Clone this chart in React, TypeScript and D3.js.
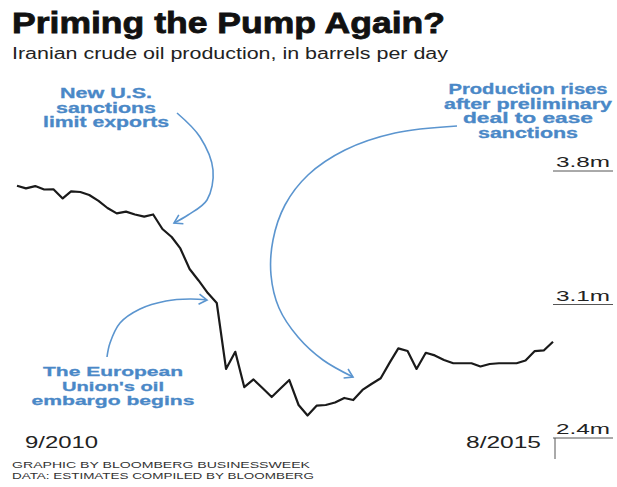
import React from 'react';
import * as d3 from 'd3';

// Iranian crude production, million barrels per day, monthly 9/2010 .. 8/2015
const months = d3.timeMonth.range(new Date(2010, 8, 1), new Date(2015, 8, 1));
const production = [
  3.723, 3.709, 3.721, 3.703, 3.704, 3.656, 3.693, 3.690, 3.674, 3.643,
  3.606, 3.578, 3.587, 3.572, 3.561, 3.572, 3.496, 3.454, 3.394, 3.286,
  3.226, 3.160, 3.108, 2.762, 2.852, 2.667, 2.707, 2.662, 2.615, 2.662,
  2.704, 2.573, 2.518, 2.570, 2.573, 2.586, 2.610, 2.599, 2.652, 2.683,
  2.713, 2.798, 2.870, 2.856, 2.762, 2.847, 2.833, 2.809, 2.792, 2.792,
  2.792, 2.775, 2.788, 2.792, 2.792, 2.792, 2.806, 2.856, 2.859, 2.905,
];
const yTicks = [3.8, 3.1, 2.4];
const yTickLabels = ['3.8m', '3.1m', '2.4m'];
const xTickLabels = ['9/2010', '8/2015'];

const W = 617;
const H = 487;
const FONT = "'Liberation Sans', Arial, Helvetica, sans-serif";
const BLUE = '#4a88c7';
const ARROW = '#5b95cf';

// annotation text: [text, width]
const noteUS: [string, number][] = [['New U.S.', 92], ['sanctions', 100], ['limit exports', 126]];
const noteEU: [string, number][] = [['The European', 140], ["Union's oil", 102], ['embargo begins', 163]];
const noteDeal: [string, number][] = [
  ['Production rises', 159], ['after preliminary', 168], ['deal to ease', 130], ['sanctions', 100],
];

const arrowUS: [number, number][] = [[177, 113], [200, 137], [213, 170], [207, 200], [188, 215], [174, 223]];
const arrowEU: [number, number][] = [[107, 357], [110, 343], [120, 323], [140, 309], [166, 301], [190, 299], [207, 300]];
const arrowDeal: [number, number][] = [
  [457, 126], [395, 133], [345, 150], [308, 175], [285, 205], [273, 240],
  [271, 275], [279, 308], [298, 337], [323, 360], [353, 377],
];

const Txt = ({ x, y, size, w, anchor = 'start', weight = 400, fill = '#222', children, bold = 0 }: any) => (
  <text x={x} y={y} fontSize={size} fontWeight={weight} fill={fill} textAnchor={anchor}
    fontFamily={FONT} textLength={w} lengthAdjust="spacingAndGlyphs"
    stroke={bold ? fill : 'none'} strokeWidth={bold}>
    {children}
  </text>
);

const App = () => {
  const x = d3.scaleTime()
    .domain([months[0], months[months.length - 1]])
    .range([17, 553]);
  const y = d3.scaleLinear().domain([2.4, 3.8]).range([438, 171]);

  const line = d3.line<number>()
    .x((_, i) => x(months[i]))
    .y(d => y(d));

  const curve = d3.line<[number, number]>().curve(d3.curveCatmullRom.alpha(0.5));

  const note = (lines: [string, number][], cx: number, y0: number, step: number, size: number) =>
    lines.map(([t, w], i) => (
      <Txt key={t} x={cx} y={y0 + i * step} size={size} w={w} anchor="middle" weight={700} fill={BLUE} bold={0.3}>{t}</Txt>
    ));

  return (
    <svg width={W} height={H} style={{ position: 'absolute', left: 0, top: 0, background: '#fff' }}>
      <defs>
        <marker id="head" viewBox="-10 -6 12 12" refX="0" refY="0" markerWidth="12" markerHeight="12"
          markerUnits="userSpaceOnUse" orient="auto">
          <path d="M-8,-5 L0,0 L-8,5" fill="none" stroke={ARROW} strokeWidth={1.6} />
        </marker>
      </defs>

      <Txt x={12} y={33} size={30} w={433} weight={700} fill="#111" bold={0.8}>Priming the Pump Again?</Txt>
      <Txt x={12} y={59} size={16} w={436}>Iranian crude oil production, in barrels per day</Txt>

      {/* right axis */}
      {yTicks.map((t, i) => (
        <g key={t}>
          <line x1={553} x2={613} y1={y(t)} y2={y(t)} stroke="#555" strokeWidth={1} />
          <Txt x={556} y={y(t) - 4} size={15} w={54}>{yTickLabels[i]}</Txt>
        </g>
      ))}
      <line x1={555} x2={555} y1={y(2.4)} y2={y(2.4) + 21} stroke="#555" strokeWidth={1} />

      <Txt x={x(months[0]) + 8} y={448} size={17} w={73}>{xTickLabels[0]}</Txt>
      <Txt x={x(months[months.length - 1]) - 12} y={448} size={17} w={75} anchor="end">{xTickLabels[1]}</Txt>

      <path d={line(production) || ''} fill="none" stroke="#1a1a1a" strokeWidth={2.2} strokeLinejoin="round" />

      {[arrowUS, arrowEU, arrowDeal].map((pts, i) => (
        <path key={i} d={curve(pts) || ''} fill="none" stroke={ARROW} strokeWidth={1.6} markerEnd="url(#head)" />
      ))}

      {note(noteUS, 106, 98, 14.5, 14)}
      {note(noteEU, 113, 376, 14.5, 13.5)}
      {note(noteDeal, 528, 94, 14.5, 14)}

      <Txt x={12} y={468} size={9.5} w={298} fill="#333">GRAPHIC BY BLOOMBERG BUSINESSWEEK</Txt>
      <Txt x={12} y={479} size={9.5} w={302} fill="#333">DATA: ESTIMATES COMPILED BY BLOOMBERG</Txt>
    </svg>
  );
};

export default App;
